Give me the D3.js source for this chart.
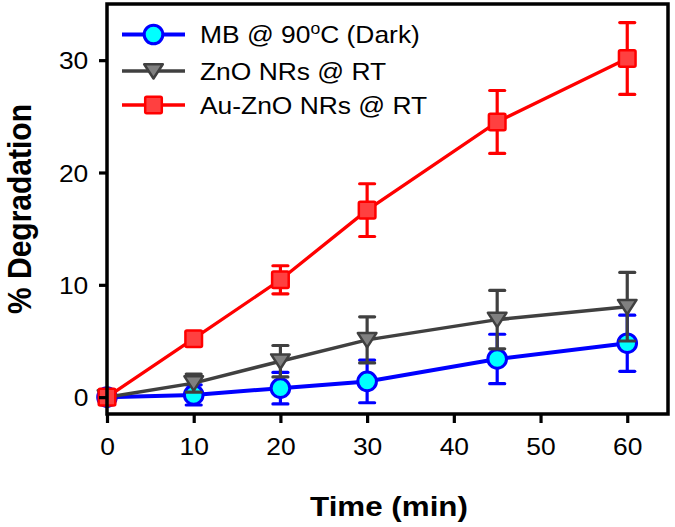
<!DOCTYPE html>
<html>
<head>
<meta charset="utf-8">
<script src="https://cdn.jsdelivr.net/npm/d3@7"></script>
<style>
  html, body { margin: 0; padding: 0; background: #fff; }
  svg { display: block; }
  text { font-family: "Liberation Sans", Arial, sans-serif; fill: #000; }
</style>
</head>
<body>
<svg id="chart" width="675" height="527"></svg>
<script>
// ---- data ----
const times = [0, 10, 20, 30, 45, 60];
const seriesNames = ["MB @ 90", "ZnO NRs @ RT", "Au-ZnO NRs @ RT"];
const mbValues = [0, 0.2, 0.8, 1.4, 3.4, 4.8];
const mbErrors = [0, 0.9, 1.4, 1.9, 2.2, 2.5];
const znoValues = [0, 1.25, 3.2, 5.1, 6.9, 8.05];
const znoErrors = [0, 0.8, 1.4, 2.05, 2.6, 3.05];
const auznoValues = [0, 5.2, 10.45, 16.65, 24.5, 30.15];
const auznoErrors = [0, 0.6, 1.25, 2.35, 2.8, 3.2];
const xTicks = [0, 10, 20, 30, 40, 50, 60];
const yTicks = [0, 10, 20, 30];
const xTitle = "Time (min)";
const yTitle = "% Degradation";

// ---- layout ----
const svg = d3.select("#chart");
const L = 107, R = 668, T = 4, B = 414;
const SX = 1.1; // horizontal text stretch of the original figure
const x = d3.scaleLinear().domain([0, 64.7]).range([L, R]);
const y = d3.scaleLinear().domain([-1.5, 35]).range([B, T]);

const series = [
  { key: "mb", values: mbValues, errors: mbErrors, line: "#0000ff", lw: 4, marker: "circle", fill: "#00ffff", stroke: "#0000ff", ew: 3.2 },
  { key: "zno", values: znoValues, errors: znoErrors, line: "#404040", lw: 3.5, marker: "triangle", fill: "#808080", stroke: "#404040", ew: 3.2 },
  { key: "au", values: auznoValues, errors: auznoErrors, line: "#ff0000", lw: 3.3, marker: "square", fill: "#ff4040", stroke: "#ff0000", ew: 3.2 }
];

function drawMarker(g, type, cx, cy, s) {
  if (type === "circle") {
    g.append("circle").attr("cx", cx).attr("cy", cy).attr("r", 9.3)
      .attr("fill", s.fill).attr("stroke", s.stroke).attr("stroke-width", 3);
  } else if (type === "square") {
    g.append("rect").attr("x", cx - 8.3).attr("y", cy - 8.3).attr("width", 16.6).attr("height", 16.6)
      .attr("rx", 1.5).attr("fill", s.fill).attr("stroke", s.stroke).attr("stroke-width", 2.5);
  } else {
    g.append("path").attr("d", `M${cx - 9.3},${cy - 6.8} L${cx + 9.3},${cy - 6.8} L${cx},${cy + 7.5} Z`)
      .attr("fill", s.fill).attr("stroke", s.stroke).attr("stroke-width", 2.5).attr("stroke-linejoin", "round");
  }
}

const line = d3.line().x((d, i) => x(times[i])).y(d => y(d));

series.forEach(s => {
  const g = svg.append("g");
  g.append("path").datum(s.values).attr("d", line)
    .attr("fill", "none").attr("stroke", s.line).attr("stroke-width", s.lw);
  s.values.forEach((v, i) => {
    const e = s.errors[i];
    if (e > 0) {
      const cx = x(times[i]);
      g.append("line").attr("x1", cx).attr("x2", cx).attr("y1", y(v + e)).attr("y2", y(v - e))
        .attr("stroke", s.line).attr("stroke-width", s.ew);
      [v + e, v - e].forEach(ev => {
        g.append("line").attr("x1", cx - 7.5).attr("x2", cx + 7.5).attr("y1", y(ev)).attr("y2", y(ev))
          .attr("stroke", s.line).attr("stroke-width", s.ew).attr("stroke-linecap", "round");
      });
    }
  });
  s.values.forEach((v, i) => drawMarker(g, s.marker, x(times[i]), y(v), s));
});

// ---- frame ----
svg.append("rect").attr("x", L).attr("y", T).attr("width", R - L).attr("height", B - T)
  .attr("fill", "none").attr("stroke", "#000").attr("stroke-width", 3.5);

// ---- axes ----
const xAxis = svg.append("g").attr("transform", `translate(0,${B})`)
  .call(d3.axisBottom(x).tickValues(xTicks).tickSize(9).tickSizeOuter(0).tickPadding(14));
xAxis.select(".domain").remove();
xAxis.selectAll(".tick line").attr("stroke", "#000").attr("stroke-width", 3.2);
xAxis.selectAll(".tick text").attr("font-size", 24).attr("font-family", '"Liberation Sans", Arial, sans-serif')
  .attr("transform", `scale(${SX},1)`).attr("dy", "0.75em");

const yAxis = svg.append("g").attr("transform", `translate(${L},0)`)
  .call(d3.axisLeft(y).tickValues(yTicks).tickSize(8).tickSizeOuter(0).tickPadding(9));
yAxis.select(".domain").remove();
yAxis.selectAll(".tick line").attr("stroke", "#000").attr("stroke-width", 3.2);
yAxis.selectAll(".tick text").attr("font-size", 24).attr("font-family", '"Liberation Sans", Arial, sans-serif')
  .attr("transform", `scale(${SX},1)`).attr("dy", "0.36em");

// ---- titles ----
svg.append("text").attr("transform", `translate(389,516) scale(${SX},1)`)
  .attr("text-anchor", "middle").attr("font-size", 28.5).attr("font-weight", "bold").text(xTitle);
svg.append("text").attr("transform", `translate(31,209) scale(${SX},1) rotate(-90)`)
  .attr("text-anchor", "middle").attr("font-size", 30).attr("font-weight", "bold").text(yTitle);

// ---- legend ----
const legendY = [34.5, 71, 105];
series.forEach((s, i) => {
  const g = svg.append("g");
  const ly = legendY[i];
  g.append("line").attr("x1", 122).attr("x2", 185).attr("y1", ly).attr("y2", ly)
    .attr("stroke", s.line).attr("stroke-width", s.lw);
  drawMarker(g, s.marker, 153.5, ly, s);
  const t = g.append("text").attr("transform", `translate(200,${ly + 8.7}) scale(${SX},1)`).attr("font-size", 24);
  if (i === 0) {
    t.append("tspan").text(seriesNames[0]);
    t.append("tspan").attr("font-size", 16).attr("dy", -9).text("o");
    t.append("tspan").attr("dy", 9).text("C (Dark)");
  } else {
    t.text(seriesNames[i]);
  }
});
</script>
</body>
</html>
